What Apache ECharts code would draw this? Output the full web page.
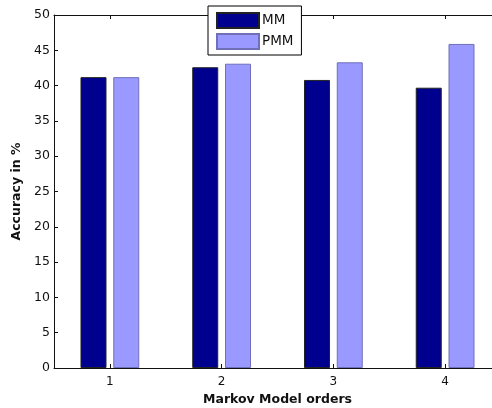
<!DOCTYPE html>
<html>
<head>
<meta charset="utf-8">
<script src="https://cdn.jsdelivr.net/npm/echarts@6/dist/echarts.min.js"></script>
<style>
  html, body { margin: 0; padding: 0; background: #fff; overflow: hidden; }
  #chart { width: 492px; height: 408px; }
</style>
</head>
<body>
<div id="chart"></div>
<script>
// Markov model order vs. accuracy for plain and predictive Markov models
const orders = ['1', '2', '3', '4'];
const mmValues = [41.2, 42.6, 40.8, 39.7];
const pmmValues = [41.2, 43.1, 43.3, 45.9];
const seriesNames = ['MM', 'PMM'];

const FONT = 'DejaVu Sans';
const INK = '#111';

const chart = echarts.init(document.getElementById('chart'), null, { renderer: 'canvas' });

const tickInside = { show: true, inside: true, length: 4, lineStyle: { color: INK, width: 1 } };
const frameLine = { show: true, onZero: false, lineStyle: { color: INK, width: 1 } };

chart.setOption({
  animation: false,
  backgroundColor: '#fff',
  textStyle: { fontFamily: FONT },
  // the frame runs a little past the right edge of the canvas
  grid: { left: 54, top: 15, width: 447, height: 353, containLabel: false, outerBoundsMode: 'none' },
  legend: {
    data: seriesNames,
    orient: 'vertical',
    left: 208,
    top: 6,
    padding: [6, 8, 5, 8],
    itemWidth: 42,
    itemHeight: 15,
    itemGap: 4,
    icon: 'rect',
    backgroundColor: '#fff',
    borderColor: '#000',
    borderWidth: 1,
    z: 10,
    textStyle: { fontFamily: FONT, fontSize: 13.5, lineHeight: 15, color: INK, padding: [0, 0, 0, -2] }
  },
  xAxis: [
    {
      type: 'category',
      data: orders,
      position: 'bottom',
      axisLine: frameLine,
      axisTick: Object.assign({ alignWithLabel: true }, tickInside),
      axisLabel: { fontFamily: FONT, fontSize: 12, color: INK, margin: 8 },
      name: 'Markov Model orders',
      nameLocation: 'middle',
      nameGap: 24,
      nameTextStyle: { fontFamily: FONT, fontSize: 12.5, fontWeight: 'bold', color: INK }
    },
    {
      type: 'category',
      data: orders,
      position: 'top',
      axisLine: frameLine,
      axisTick: Object.assign({ alignWithLabel: true }, tickInside),
      axisLabel: { show: false }
    }
  ],
  yAxis: {
    type: 'value',
    min: 0,
    max: 50,
    interval: 5,
    position: 'left',
    axisLine: frameLine,
    axisTick: tickInside,
    splitLine: { show: false },
    axisLabel: { fontFamily: FONT, fontSize: 12.5, color: INK, margin: 4 },
    name: 'Accuracy in %',
    nameLocation: 'middle',
    nameGap: 29,
    nameTextStyle: { fontFamily: FONT, fontSize: 12.5, fontWeight: 'bold', color: INK }
  },
  series: [
    {
      name: seriesNames[0],
      type: 'bar',
      data: mmValues,
      barWidth: 26,
      barGap: '26%',
      itemStyle: { color: '#00008f', borderColor: '#222', borderWidth: 1 }
    },
    {
      name: seriesNames[1],
      type: 'bar',
      data: pmmValues,
      barWidth: 26,
      barGap: '26%',
      itemStyle: { color: '#9999ff', borderColor: '#6f70b8', borderWidth: 1 }
    }
  ]
});
</script>
</body>
</html>
